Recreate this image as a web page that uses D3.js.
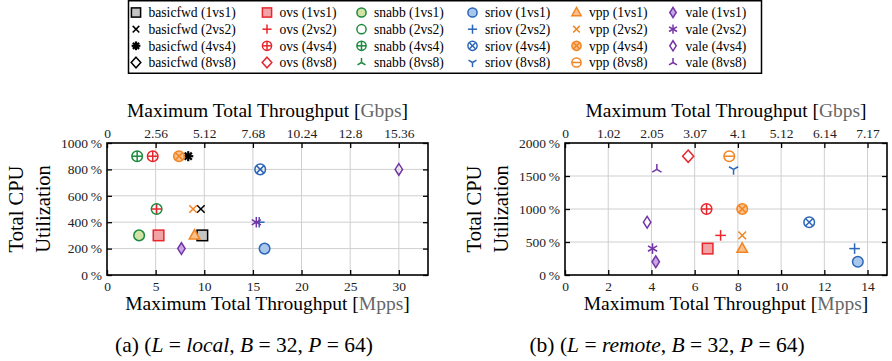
<!DOCTYPE html>
<html>
<head>
<meta charset="utf-8">
<script src="https://cdn.jsdelivr.net/npm/d3@7"></script>
<style>
  body { margin: 0; background: #fff; }
  svg { display: block; font-family: "Liberation Serif", "DejaVu Serif", serif; }
</style>
</head>
<body>
<svg id="chart" width="892" height="361"></svg>
<script>
// tools / configurations
const tools = ["basicfwd", "ovs", "snabb", "sriov", "vpp", "vale"];
const configs = ["1vs1", "2vs2", "4vs4", "8vs8"];

// [Mpps, CPU %] per config, null = not measured
const basicfwdLocal = [[9.8, 300], [9.65, 500], [8.35, 900], null];
const ovsLocal      = [[5.3, 300], [5.1, 500], [4.7, 900], null];
const snabbLocal    = [[3.3, 300], [5.1, 500], [3.1, 900], null];
const sriovLocal    = [[16.2, 200], [15.65, 400], [15.75, 800], null];
const vppLocal      = [[9.0, 300], [8.85, 500], [7.4, 900], null];
const valeLocal     = [[7.65, 200], [15.35, 400], [30.0, 800], null];

const basicfwdRemote = [null, null, null, null];
const ovsRemote      = [[6.6, 400], [7.2, 600], [6.55, 1000], [5.7, 1800]];
const snabbRemote    = [null, null, null, null];
const sriovRemote    = [[13.55, 200], [13.4, 400], [11.3, 800], [7.8, 1600]];
const vppRemote      = [[8.2, 400], [8.2, 600], [8.2, 1000], [7.6, 1800]];
const valeRemote     = [[4.2, 200], [4.05, 400], [3.8, 800], [4.25, 1600]];

// axis ticks
const localMppsTicks = [0, 5, 10, 15, 20, 25, 30];
const localGbpsLabels = ["0", "2.56", "5.12", "7.68", "10.24", "12.8", "15.36"];
const localCpuTicks = [0, 200, 400, 600, 800, 1000];
const remoteMppsTicks = [0, 2, 4, 6, 8, 10, 12, 14];
const remoteGbpsLabels = ["0", "1.02", "2.05", "3.07", "4.1", "5.12", "6.14", "7.17"];
const remoteCpuTicks = [0, 500, 1000, 1500, 2000];

const colors = { basicfwd: "#000000", ovs: "#e8262c", snabb: "#1b8a3e", sriov: "#2c66b8", vpp: "#f28522", vale: "#7434a6" };
const lights = { basicfwd: "#c4c4c4", ovs: "#f2a3a6", snabb: "#d2e2a4", sriov: "#a9c7ea", vpp: "#f9c08c", vale: "#c7a6e4" };
const shapes = {
  basicfwd: ["square", "x", "asterisk8", "diamond"],
  ovs: ["square", "plus", "oplus", "diamond"],
  snabb: ["circle", "circle", "oplus", "triup"],
  sriov: ["circle", "plus", "otimes", "tridown"],
  vpp: ["triangle", "x", "otimes", "ominus"],
  vale: ["thindiamond", "asterisk6", "thindiamond", "triup"]
};
const filled = {
  basicfwd: [true, false, false, false],
  ovs: [true, false, false, false],
  snabb: [true, false, false, false],
  sriov: [true, false, false, false],
  vpp: [true, false, true, false],
  vale: [true, false, false, false]
};

const svg = d3.select("#chart");

function marker(g, shape, color, fill, s) {
  const sw = 1.5;
  const line = (x1, y1, x2, y2, w) => g.append("line")
    .attr("x1", x1).attr("y1", y1).attr("x2", x2).attr("y2", y2)
    .attr("stroke", color).attr("stroke-width", w || sw).attr("stroke-linecap", "butt");
  const circ = () => g.append("circle").attr("r", s)
    .attr("fill", fill || "none").attr("stroke", color).attr("stroke-width", sw);
  switch (shape) {
    case "square":
      g.append("rect").attr("x", -s).attr("y", -s).attr("width", 2 * s).attr("height", 2 * s)
        .attr("fill", fill || "none").attr("stroke", color).attr("stroke-width", sw);
      break;
    case "circle": circ(); break;
    case "x": { const a = s * 0.72; line(-a, -a, a, a); line(-a, a, a, -a); break; }
    case "plus": line(-s, 0, s, 0); line(0, -s, 0, s); break;
    case "asterisk8": {
      const a = s * 0.95, d = a * 0.707;
      line(-a, 0, a, 0, 2.2); line(0, -a, 0, a, 2.2); line(-d, -d, d, d, 2.2); line(-d, d, d, -d, 2.2);
      break;
    }
    case "asterisk6": {
      const a = s, c = a * 0.866, h = a * 0.5;
      line(0, -a, 0, a); line(-c, -h, c, h); line(-c, h, c, -h);
      break;
    }
    case "oplus": circ(); line(-s, 0, s, 0); line(0, -s, 0, s); break;
    case "otimes": { circ(); const d = s * 0.707; line(-d, -d, d, d); line(-d, d, d, -d); break; }
    case "ominus": circ(); line(-s, 0, s, 0); break;
    case "diamond":
      g.append("path").attr("d", `M0,${-s * 1.15}L${s * 1.05},0L0,${s * 1.15}L${-s * 1.05},0Z`)
        .attr("fill", fill || "none").attr("stroke", color).attr("stroke-width", sw);
      break;
    case "thindiamond":
      g.append("path").attr("d", `M0,${-s * 1.1}L${s * 0.7},0L0,${s * 1.1}L${-s * 0.7},0Z`)
        .attr("fill", fill || "none").attr("stroke", color).attr("stroke-width", sw);
      break;
    case "triangle":
      g.append("path").attr("d", `M0,${-s * 1.1}L${s * 1.0},${s * 0.7}L${-s * 1.0},${s * 0.7}Z`)
        .attr("fill", fill || "none").attr("stroke", color).attr("stroke-width", sw).attr("stroke-linejoin", "miter");
      break;
    case "triup": {
      const c = s * 0.866, h = s * 0.5;
      line(0, 0, 0, -s); line(0, 0, -c, h); line(0, 0, c, h);
      break;
    }
    case "tridown": {
      const c = s * 0.866, h = s * 0.5;
      line(0, 0, 0, s); line(0, 0, -c, -h); line(0, 0, c, -h);
      break;
    }
  }
}

// ---------- legend ----------
const legend = svg.append("g");
legend.append("rect").attr("x", 128.5).attr("y", 0.75).attr("width", 633).attr("height", 72.5)
  .attr("fill", "#fff").attr("stroke", "#000").attr("stroke-width", 1.5);
const legendMarkerX = [136, 267, 361.5, 472.5, 576.5, 673];
const legendRowY = [12.5, 29.2, 45.8, 62.5];
tools.forEach((t, i) => {
  configs.forEach((c, j) => {
    const g = legend.append("g").attr("transform", `translate(${legendMarkerX[i]},${legendRowY[j]})`);
    marker(g, shapes[t][j], colors[t], filled[t][j] ? lights[t] : null, 4.6);
    legend.append("text").attr("x", legendMarkerX[i] + 12.5).attr("y", legendRowY[j] + 4.7)
      .attr("font-size", 13.6).text(`${t} (${c})`);
  });
});

// ---------- panels ----------
const panels = [
  { left: 107, right: 428, xMax: 33, yMax: 1000, xTicks: localMppsTicks, gbps: localGbpsLabels, yTicks: localCpuTicks,
    data: [basicfwdLocal, ovsLocal, snabbLocal, sriovLocal, vppLocal, valeLocal],
    caption: ["(a) (", ["L", true], " = ", ["local", true], ", ", ["B", true], " = 32, ", ["P", true], " = 64)"], capX: 244 },
  { left: 565, right: 887, xMax: 14.9, yMax: 2000, xTicks: remoteMppsTicks, gbps: remoteGbpsLabels, yTicks: remoteCpuTicks,
    data: [basicfwdRemote, ovsRemote, snabbRemote, sriovRemote, vppRemote, valeRemote],
    caption: ["(b) (", ["L", true], " = ", ["remote", true], ", ", ["B", true], " = 32, ", ["P", true], " = 64)"], capX: 667 }
];
const plotTop = 143, plotBottom = 275;

panels.forEach(p => {
  const x = d3.scaleLinear().domain([0, p.xMax]).range([p.left, p.right]);
  const y = d3.scaleLinear().domain([0, p.yMax]).range([plotBottom, plotTop]);
  const g = svg.append("g");

  // grid
  g.append("g").selectAll("line").data(p.xTicks.filter(v => v > 0)).join("line")
    .attr("x1", d => x(d)).attr("x2", d => x(d)).attr("y1", plotTop).attr("y2", plotBottom)
    .attr("stroke", "#cfcfcf").attr("stroke-width", 1);
  g.append("g").selectAll("line").data(p.yTicks.filter(v => v > 0 && v < p.yMax)).join("line")
    .attr("x1", p.left).attr("x2", p.right).attr("y1", d => y(d)).attr("y2", d => y(d))
    .attr("stroke", "#cfcfcf").attr("stroke-width", 1);

  const styleAxis = a => {
    a.select(".domain").remove();
    a.selectAll(".tick line").attr("stroke", "#000").attr("stroke-width", 1.3);
    a.selectAll(".tick text").attr("fill", "#222").attr("font-size", 13.5)
      .attr("font-family", "Liberation Serif, serif");
  };
  g.append("g").attr("transform", `translate(0,${plotBottom})`)
    .call(d3.axisBottom(x).tickValues(p.xTicks).tickSize(-5).tickPadding(6)).call(styleAxis);
  g.append("g").attr("transform", `translate(0,${plotTop})`)
    .call(d3.axisTop(x).tickValues(p.xTicks).tickSize(-5).tickPadding(5)
      .tickFormat((d, i) => p.gbps[i])).call(styleAxis);
  g.append("g").attr("transform", `translate(${p.left},0)`)
    .call(d3.axisLeft(y).tickValues(p.yTicks).tickSize(-5).tickPadding(5)
      .tickFormat(d => d + "\u2009%")).call(styleAxis);
  g.append("g").attr("transform", `translate(${p.right},0)`)
    .call(d3.axisRight(y).tickValues(p.yTicks).tickSize(-5).tickFormat("")).call(styleAxis);

  // frame
  g.append("rect").attr("x", p.left).attr("y", plotTop).attr("width", p.right - p.left).attr("height", plotBottom - plotTop)
    .attr("fill", "none").attr("stroke", "#000").attr("stroke-width", 1.6);

  // markers
  tools.forEach((t, i) => {
    p.data[i].forEach((pt, j) => {
      if (!pt) return;
      const mg = g.append("g").attr("transform", `translate(${x(pt[0])},${y(pt[1])})`);
      marker(mg, shapes[t][j], colors[t], filled[t][j] ? lights[t] : null, 5.3);
    });
  });

  // axis titles
  const cx = (p.left + p.right) / 2;
  const title = (yy, unit) => {
    const tx = g.append("text").attr("x", cx).attr("y", yy).attr("text-anchor", "middle").attr("font-size", 19.5);
    tx.append("tspan").text("Maximum Total Throughput [");
    tx.append("tspan").attr("fill", "#666").text(unit);
    tx.append("tspan").text("]");
  };
  title(117, "Gbps");
  title(310, "Mpps");

  // y title
  const yl = g.append("text").attr("transform", `translate(${p.left - 84},${(plotTop + plotBottom) / 2}) rotate(-90)`)
    .attr("text-anchor", "middle").attr("font-size", 20.5);
  yl.append("tspan").attr("x", 0).attr("y", 0).text("Total CPU");
  yl.append("tspan").attr("x", 0).attr("y", 27).text("Utilization");

  // caption
  const cap = svg.append("text").attr("x", p.capX).attr("y", 352).attr("text-anchor", "middle").attr("font-size", 21.5);
  p.caption.forEach(part => {
    if (Array.isArray(part)) cap.append("tspan").attr("font-style", "italic").text(part[0]);
    else cap.append("tspan").text(part);
  });
});
</script>
</body>
</html>
